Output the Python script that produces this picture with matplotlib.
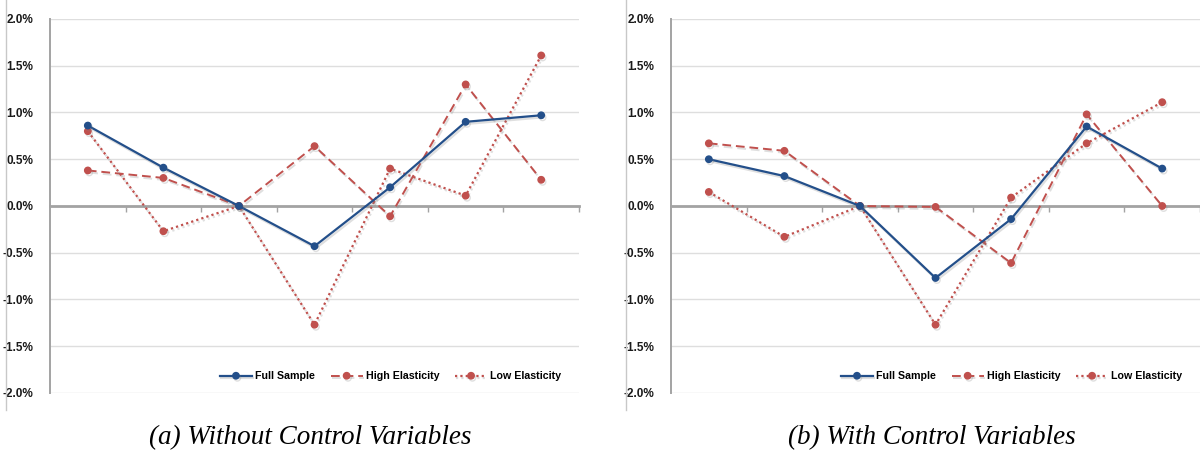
import matplotlib.pyplot as plt
import matplotlib.patheffects as pe
from matplotlib.lines import Line2D
from matplotlib.ticker import FuncFormatter, FixedLocator

# values in percent, 7 periods
periods = [1, 2, 3, 4, 5, 6, 7]

full_a = [0.86, 0.41, 0.00, -0.43, 0.20, 0.90, 0.97]
high_a = [0.38, 0.30, 0.00, 0.64, -0.11, 1.30, 0.28]
low_a = [0.80, -0.27, 0.00, -1.27, 0.40, 0.11, 1.61]

full_b = [0.50, 0.32, 0.00, -0.77, -0.14, 0.85, 0.40]
high_b = [0.67, 0.59, 0.00, -0.01, -0.61, 0.98, 0.00]
low_b = [0.15, -0.33, 0.00, -1.27, 0.09, 0.67, 1.11]

captions = ['(a) Without Control Variables', '(b) With Control Variables']
series_names = ['Full Sample', 'High Elasticity', 'Low Elasticity']

BLUE = '#234F8A'
RED = '#C0504D'
GRID = '#dedede'
AXIS = '#a3a3a3'

plt.rcParams['font.family'] = ['Liberation Sans', 'DejaVu Sans']

fig = plt.figure(figsize=(12, 4.54), dpi=100)

shadow = [pe.SimpleLineShadow(offset=(1, -1.5), shadow_color='gray', alpha=0.25), pe.Normal()]


def draw_panel(ax, full, high, low):
    x = list(range(len(periods)))
    ax.plot(x, full, color=BLUE, lw=1.6, marker='o', ms=4.6, label=series_names[0],
            path_effects=shadow, zorder=4)
    ax.plot(x, high, color=RED, lw=1.4, ls=(0, (4.5, 2.5)), marker='o', ms=4.6,
            label=series_names[1], path_effects=shadow, zorder=3)
    ax.plot(x, low, color=RED, lw=1.6, ls=(0, (1, 1.4)), marker='o', ms=4.6,
            label=series_names[2], path_effects=shadow, zorder=3)

    ax.set_xlim(-0.5, len(periods) - 0.5)
    ax.set_ylim(-2.0, 2.0)
    ax.set_yticks([-2.0, -1.5, -1.0, -0.5, 0.0, 0.5, 1.0, 1.5, 2.0])
    ax.yaxis.set_major_formatter(FuncFormatter(lambda v, p: f'{v:.1f}%'))
    ax.grid(axis='y', color=GRID, lw=1)
    ax.set_axisbelow(True)

    for s in ['top', 'right']:
        ax.spines[s].set_visible(False)
    ax.spines['left'].set_color(AXIS)
    ax.spines['left'].set_linewidth(1.4)

    # category axis sits on the zero line
    ax.spines['bottom'].set_position(('data', 0))
    ax.spines['bottom'].set_color(AXIS)
    ax.spines['bottom'].set_linewidth(2)
    ax.xaxis.set_major_locator(FixedLocator([i + 0.5 for i in range(len(periods))]))
    ax.set_xticklabels([])
    ax.tick_params(axis='x', direction='out', length=4, width=1, color=AXIS)
    ax.tick_params(axis='y', length=0, pad=12, labelsize=8.5)
    for lab in ax.get_yticklabels():
        lab.set_fontweight('bold')
        lab.set_color('#1a1a1a')

    ax.legend(loc='lower right', bbox_to_anchor=(0.985, 0.005), ncol=3, frameon=False,
              handlelength=3.0, handletextpad=0.3, columnspacing=1.45,
              prop={'weight': 'bold', 'size': 7.7})


ax1 = fig.add_axes([0.0417, 0.1344, 0.4408, 0.8238])
ax2 = fig.add_axes([0.5592, 0.1344, 0.4408, 0.8238])
draw_panel(ax1, full_a, high_a, low_a)
draw_panel(ax2, full_b, high_b, low_b)

# thin frame lines on the left of each chart box
for xf in [6 / 1200, 626 / 1200]:
    fig.add_artist(Line2D([xf, xf], [1.0, 1 - 410 / 454], transform=fig.transFigure,
                          color='#c8c8c8', lw=1))

fig.text(310 / 1200, 1 - 438 / 454, captions[0], ha='center', va='center',
         family='Liberation Serif', style='italic', fontsize=19.5)
fig.text(932 / 1200, 1 - 438 / 454, captions[1], ha='center', va='center',
         family='Liberation Serif', style='italic', fontsize=19.5)

fig.savefig('out.png', dpi=100)
